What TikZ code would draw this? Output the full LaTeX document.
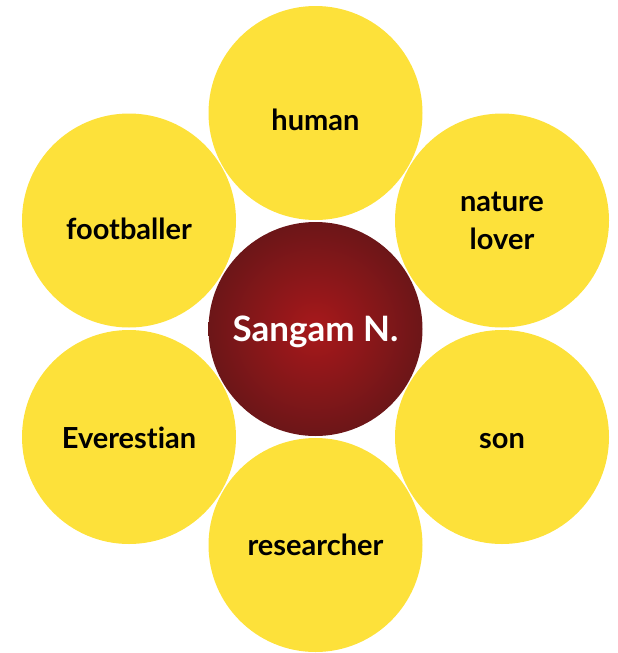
\documentclass[tikz,border=0pt]{standalone}
\usepackage{fontspec}
\setmainfont{Lato}[UprightFont=* Bold, Ligatures={NoCommon,NoRare,NoContextual}]
\definecolor{petal}{HTML}{FDE13A}
\definecolor{coreIn}{HTML}{A8181B}
\definecolor{coreOut}{HTML}{6C1618}
\tikzset{
  petal/.style={circle, fill=petal, minimum size=214pt, inner sep=0pt},
  core/.style={circle, inner color=coreIn, outer color=coreOut, minimum size=214pt, inner sep=0pt},
  petaltext/.style={anchor=base, font=\fontsize{29}{38}\selectfont, text=black, align=center},
  coretext/.style={anchor=base, font=\fontsize{35}{40}\selectfont, text=white}
}
\begin{document}
\begin{tikzpicture}[x=1pt, y=-1pt]
  \useasboundingbox (0,0) rectangle (618,653);
  % outer ring of circles
  \node[petal] (human) at (315.5,113) {};
  \node[petal] (nature) at (502,220.5) {};
  \node[petal] (son) at (502,437) {};
  \node[petal] (research) at (315.5,545) {};
  \node[petal] (everest) at (129,437) {};
  \node[petal] (football) at (129,220.5) {};
  % central circle
  \node[core] (me) at (315.5,329) {};
  % labels (base anchor = baseline of the last line)
  \node[petaltext] (humanT) at ([yshift=-17pt]human.center) {human};
  \node[petaltext] (natureT) at ([yshift=-28.8pt]nature.center) {nature\\lover};
  \node[petaltext] (sonT) at ([yshift=-11pt]son.center) {son};
  \node[petaltext] (researchT) at ([yshift=-10.7pt]research.center) {researcher};
  \node[petaltext] (everestT) at ([yshift=-11pt]everest.center) {Everestian};
  \node[petaltext] (footballT) at ([yshift=-18.8pt]football.center) {footballer};
  \node[coretext] (meT) at ([yshift=-12.7pt]me.center) {Sangam N.};
\end{tikzpicture}
\end{document}
